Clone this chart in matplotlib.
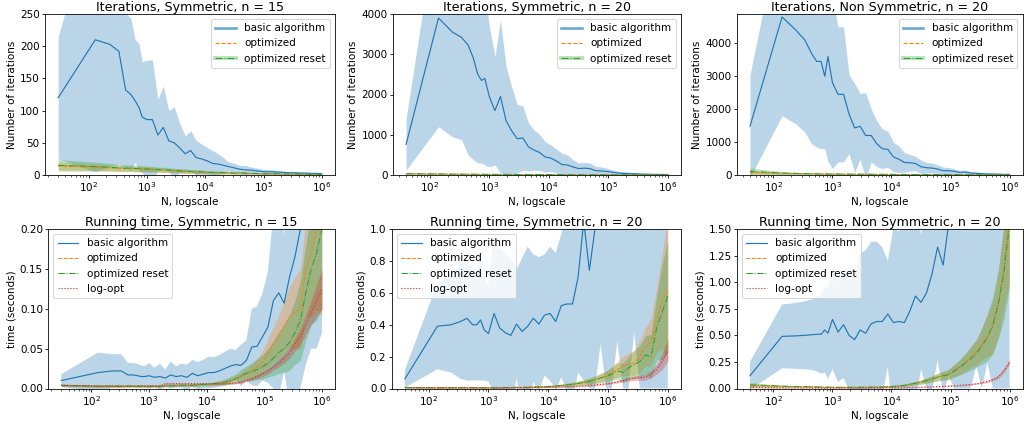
import matplotlib
matplotlib.use("Agg")
import matplotlib.pyplot as plt
from matplotlib.lines import Line2D
import numpy as np

# ---------------- data ----------------
N_A = [30, 130, 230, 330, 430, 530, 630, 730, 830, 1000, 1241, 1540, 1911, 2371, 2943, 3652,
       4532, 5623, 6978, 8660, 10746, 13335, 16548, 20535, 25483, 31623, 39242, 48697, 60430,
       74989, 93057, 115478, 143301, 177828, 220673, 273842, 339821, 421697, 523299, 649382,
       805842, 1000000]
N_B = [40, 140, 240, 340, 440, 540, 640, 740, 840, 1000, 1241, 1540, 1911, 2371, 2943, 3652,
       4532, 5623, 6978, 8660, 10746, 13335, 16548, 20535, 25483, 31623, 39242, 48697, 60430,
       74989, 93057, 115478, 143301, 177828, 220673, 273842, 339821, 421697, 523299, 649382,
       805842, 1000000]

# Panel 1: iterations, symmetric, n = 15
it15_basic = [120, 210, 203, 192, 132, 125, 115, 105, 90, 86, 86, 62, 74, 53, 50, 42, 33, 38, 27, 25,
              22, 18, 17, 15, 13, 11, 9, 8, 7.5, 6.5, 5.5, 5, 5, 4.5, 4, 3.5, 3.5, 3, 3, 2.5, 2.5, 2]
it15_basic_sd = [95, 205, 190, 175, 120, 118, 95, 99, 86, 92, 93, 56, 64, 47, 56, 38, 28, 31, 27, 23,
                 21, 20, 16, 12, 7, 7, 6, 7, 5, 4.5, 3.5, 3.5, 3, 2.5, 2, 2, 1.8, 1.5, 1.5, 1.2, 1.2, 1]
it15_opt = [14, 12, 11, 10.5, 10, 10, 9.5, 9.5, 9, 9, 8.5, 8, 7.5, 7, 6.5, 6, 5.5, 5, 5, 4.5,
            4, 4, 3.5, 3.5, 3, 3, 3, 2.5, 2.5, 2, 2, 2, 2, 1.5, 1.5, 1.5, 1.5, 1, 1, 1, 1, 1]
it15_opt_sd = [6, 5, 4.5, 4.5, 4, 4, 4, 4, 4, 4, 3.5, 3.5, 3.5, 3, 3, 3, 3, 2.5, 2.5, 2.5,
               2, 2, 2, 2, 1.5, 1.5, 1.5, 1.5, 1.2, 1.2, 1, 1, 1, 1, 0.8, 0.8, 0.8, 0.7, 0.7, 0.6, 0.6, 0.5]
it15_reset = [15, 13, 12, 11, 10.5, 10.5, 10, 10, 9.5, 9.5, 9, 8.5, 8, 7.5, 7, 6.5, 6, 5.5, 5, 5,
              4.5, 4, 4, 3.5, 3.5, 3, 3, 3, 2.5, 2.5, 2, 2, 2, 2, 1.5, 1.5, 1.5, 1.5, 1, 1, 1, 1]
it15_reset_sd = [9, 7, 6, 5.5, 5, 5, 5, 5, 4.5, 4.5, 4.5, 4, 4, 4, 3.5, 3.5, 3.5, 3, 3, 3,
                 2.5, 2.5, 2.5, 2, 2, 2, 2, 1.8, 1.5, 1.5, 1.2, 1.2, 1.2, 1, 1, 1, 0.8, 0.8, 0.8, 0.7, 0.7, 0.6]

# Panel 2: iterations, symmetric, n = 20
it20_basic = [760, 3900, 3550, 3420, 3230, 2900, 2500, 2350, 2400, 1950, 1600, 1950, 1350, 1100, 900,
              920, 700, 620, 560, 450, 420, 350, 260, 250, 200, 160, 170, 160, 110, 100,
              90, 70, 50, 40, 35, 30, 25, 20, 18, 15, 13, 12]
it20_basic_sd = [640, 2700, 2600, 2540, 2730, 2520, 2200, 2050, 2150, 1750, 1350, 1900, 1350, 1100, 850,
                 800, 600, 500, 450, 380, 330, 300, 280, 250, 180, 140, 140, 140, 110, 100,
                 80, 60, 50, 40, 35, 30, 25, 20, 18, 15, 13, 12]
it20_opt = [30, 25, 22, 20, 19, 18, 17, 16, 16, 15, 15, 14, 14, 13, 13, 12, 12, 11, 11, 10,
            10, 9, 9, 8, 8, 7, 7, 6, 6, 6, 5, 5, 5, 4, 4, 4, 3, 3, 3, 3, 2, 2]
it20_opt_sd = [15, 12, 10, 10, 9, 9, 8, 8, 8, 7, 7, 7, 6, 6, 6, 6, 5, 5, 5, 5,
               4, 4, 4, 4, 3, 3, 3, 3, 3, 2, 2, 2, 2, 2, 2, 1.5, 1.5, 1.5, 1, 1, 1, 1]
it20_reset = [34, 27, 23, 21, 20, 19, 18, 17, 16, 16, 15, 15, 14, 14, 13, 13, 12, 12, 11, 11,
              10, 10, 9, 9, 8, 8, 7, 7, 6, 6, 6, 5, 5, 5, 4, 4, 4, 3, 3, 3, 3, 2]
it20_reset_sd = [20, 14, 12, 11, 10, 10, 9, 9, 8, 8, 8, 7, 7, 7, 6, 6, 6, 6, 5, 5,
                 5, 5, 4, 4, 4, 4, 3, 3, 3, 3, 3, 2, 2, 2, 2, 2, 2, 1.5, 1.5, 1.5, 1, 1]

# Panel 3: iterations, non symmetric, n = 20
itns_basic = [1480, 4800, 4400, 4100, 3700, 3450, 3450, 3000, 3600, 2800, 2450, 2450, 1850, 1430, 1480,
              1200, 1200, 950, 800, 780, 550, 480, 380, 370, 350, 250, 220, 210, 180, 130,
              130, 110, 80, 90, 60, 50, 40, 30, 30, 25, 20, 20]
itns_basic_sd = [1560, 3000, 2850, 2800, 2750, 2600, 2650, 2200, 3200, 2600, 2050, 2050, 1200, 1350, 1000,
                 1300, 800, 700, 600, 550, 450, 400, 300, 250, 220, 200, 160, 150, 130, 110,
                 100, 80, 60, 60, 45, 40, 35, 30, 25, 20, 15, 15]
itns_opt = [80, 50, 42, 38, 35, 33, 31, 30, 29, 28, 27, 26, 25, 24, 23, 22, 21, 20, 19, 18,
            17, 16, 15, 15, 14, 13, 13, 12, 12, 11, 11, 10, 10, 9, 9, 9, 8, 8, 8, 7, 7, 7]
itns_opt_sd = [50, 30, 25, 22, 20, 19, 18, 17, 16, 16, 15, 15, 14, 14, 13, 13, 12, 12, 11, 11,
               10, 10, 9, 9, 9, 8, 8, 8, 7, 7, 7, 6, 6, 6, 5, 5, 5, 5, 4, 4, 4, 4]
itns_reset = [110, 60, 48, 42, 38, 35, 33, 32, 31, 30, 29, 28, 27, 26, 25, 24, 23, 22, 21, 20,
              19, 18, 17, 16, 15, 15, 14, 13, 13, 12, 12, 11, 11, 10, 10, 9, 9, 9, 8, 8, 8, 7]
itns_reset_sd = [100, 45, 35, 30, 27, 25, 23, 22, 21, 20, 19, 18, 17, 16, 15, 15, 14, 14, 13, 13,
                 12, 12, 11, 11, 10, 10, 9, 9, 9, 8, 8, 8, 7, 7, 7, 6, 6, 6, 5, 5, 5, 5]

# Panel 4: running time, symmetric, n = 15
t15_basic = [0.010, 0.020, 0.022, 0.022, 0.017, 0.017, 0.016, 0.015, 0.015, 0.016,
             0.014, 0.015, 0.013, 0.017, 0.015, 0.016, 0.014, 0.019, 0.016, 0.018,
             0.020, 0.020, 0.022, 0.025, 0.028, 0.030, 0.029, 0.035, 0.052, 0.053,
             0.065, 0.077, 0.11, 0.12, 0.107, 0.14, 0.165, 0.2, 0.25, 0.3, 0.35, 0.42]
t15_basic_sd = [0.008, 0.025, 0.021, 0.021, 0.015, 0.015, 0.015, 0.014, 0.013, 0.016,
                0.012, 0.016, 0.011, 0.017, 0.013, 0.015, 0.016, 0.017, 0.017, 0.018,
                0.020, 0.019, 0.020, 0.021, 0.022, 0.018, 0.026, 0.025, 0.048, 0.05,
                0.055, 0.07, 0.11, 0.13, 0.085, 0.16, 0.2, 0.2, 0.22, 0.25, 0.3, 0.35]
t15_opt = [0.004, 0.003, 0.003, 0.003, 0.003, 0.003, 0.003, 0.003, 0.003, 0.003,
           0.003, 0.003, 0.0035, 0.0035, 0.0035, 0.004, 0.004, 0.004, 0.0045, 0.005,
           0.005, 0.006, 0.007, 0.008, 0.010, 0.012, 0.015, 0.018, 0.022, 0.027,
           0.033, 0.045, 0.055, 0.065, 0.078, 0.09, 0.095, 0.10, 0.15, 0.17, 0.20, 0.23]
t15_opt_sd = [0.001, 0.001, 0.001, 0.001, 0.001, 0.001, 0.001, 0.001, 0.001, 0.001,
              0.001, 0.001, 0.001, 0.001, 0.001, 0.001, 0.001, 0.001, 0.001, 0.001,
              0.0015, 0.0015, 0.002, 0.002, 0.003, 0.004, 0.005, 0.007, 0.009, 0.011,
              0.014, 0.018, 0.022, 0.027, 0.032, 0.038, 0.045, 0.05, 0.06, 0.08, 0.1, 0.14]
t15_reset = [0.004, 0.003, 0.003, 0.003, 0.003, 0.003, 0.003, 0.003, 0.003, 0.003,
             0.003, 0.003, 0.0035, 0.0035, 0.0035, 0.004, 0.004, 0.004, 0.0045, 0.005,
             0.0055, 0.006, 0.007, 0.008, 0.010, 0.012, 0.016, 0.019, 0.021, 0.024,
             0.027, 0.032, 0.038, 0.045, 0.05, 0.058, 0.07, 0.085, 0.12, 0.15, 0.17, 0.20]
t15_reset_sd = [0.0015, 0.0015, 0.0015, 0.0015, 0.0015, 0.0015, 0.0015, 0.0015, 0.0015, 0.0015,
                0.0015, 0.0015, 0.0015, 0.0015, 0.0015, 0.0015, 0.0015, 0.0015, 0.002, 0.002,
                0.002, 0.0025, 0.003, 0.004, 0.005, 0.006, 0.008, 0.009, 0.011, 0.013,
                0.015, 0.018, 0.022, 0.026, 0.03, 0.035, 0.04, 0.05, 0.06, 0.07, 0.085, 0.1]
t15_log = [0.004, 0.003, 0.003, 0.003, 0.003, 0.003, 0.003, 0.003, 0.003, 0.003,
           0.003, 0.003, 0.006, 0.006, 0.006, 0.006, 0.006, 0.006, 0.006, 0.006,
           0.006, 0.006, 0.006, 0.006, 0.0065, 0.007, 0.008, 0.01, 0.012, 0.015,
           0.018, 0.022, 0.027, 0.032, 0.038, 0.045, 0.055, 0.065, 0.08, 0.095, 0.11, 0.125]
t15_log_sd = [0.001, 0.0008, 0.0008, 0.0008, 0.0008, 0.0008, 0.0008, 0.0008, 0.0008, 0.0008,
              0.0008, 0.0008, 0.001, 0.001, 0.001, 0.001, 0.001, 0.001, 0.001, 0.001,
              0.001, 0.001, 0.001, 0.001, 0.001, 0.0012, 0.0015, 0.0018, 0.002, 0.0025,
              0.003, 0.0035, 0.004, 0.005, 0.006, 0.007, 0.008, 0.01, 0.012, 0.015, 0.02, 0.025]

# Panel 5: running time, symmetric, n = 20
t20_basic = [0.06, 0.39, 0.40, 0.42, 0.44, 0.40, 0.40, 0.43, 0.37, 0.344,
             0.47, 0.38, 0.35, 0.333, 0.404, 0.358, 0.39, 0.441, 0.404, 0.46,
             0.47, 0.42, 0.52, 0.53, 0.53, 0.70, 1.05, 0.74, 1.0, 1.3,
             1.5, 1.7, 1.9, 2.1, 2.4, 2.7, 3.0, 3.3, 3.7, 4.1, 4.5, 5.0]
t20_basic_sd = [0.055, 0.27, 0.30, 0.36, 0.39, 0.35, 0.35, 0.38, 0.32, 0.30,
                0.50, 0.50, 0.50, 0.48, 0.34, 0.46, 0.50, 0.40, 0.42, 0.38,
                0.42, 0.43, 0.45, 0.55, 0.6, 0.6, 1.0, 0.74, 1.0, 1.02,
                1.5, 1.7, 1.6, 2.1, 2.4, 2.35, 3.0, 3.3, 3.7, 4.1, 4.5, 5.0]
t20_opt = [0.006, 0.005, 0.005, 0.005, 0.005, 0.005, 0.005, 0.005, 0.005, 0.005,
           0.005, 0.005, 0.006, 0.006, 0.007, 0.007, 0.008, 0.009, 0.01, 0.011,
           0.013, 0.016, 0.019, 0.023, 0.027, 0.032, 0.038, 0.045, 0.055, 0.066,
           0.08, 0.1, 0.12, 0.14, 0.15, 0.16, 0.2, 0.26, 0.29, 0.43, 0.55, 0.62]
t20_opt_sd = [0.004, 0.003, 0.003, 0.003, 0.003, 0.003, 0.003, 0.003, 0.003, 0.003,
              0.003, 0.003, 0.003, 0.003, 0.003, 0.003, 0.004, 0.004, 0.004, 0.005,
              0.005, 0.006, 0.007, 0.008, 0.01, 0.012, 0.014, 0.017, 0.02, 0.025,
              0.03, 0.04, 0.05, 0.06, 0.07, 0.08, 0.1, 0.12, 0.15, 0.2, 0.3, 0.45]
t20_reset = [0.006, 0.005, 0.005, 0.005, 0.005, 0.005, 0.005, 0.005, 0.005, 0.005,
             0.005, 0.005, 0.006, 0.006, 0.007, 0.007, 0.008, 0.009, 0.01, 0.011,
             0.013, 0.016, 0.019, 0.023, 0.027, 0.032, 0.038, 0.045, 0.055, 0.066,
             0.075, 0.09, 0.11, 0.10, 0.13, 0.15, 0.17, 0.21, 0.20, 0.38, 0.48, 0.58]
t20_reset_sd = [0.004, 0.003, 0.003, 0.003, 0.003, 0.003, 0.003, 0.003, 0.003, 0.003,
                0.003, 0.003, 0.003, 0.003, 0.003, 0.003, 0.004, 0.004, 0.004, 0.005,
                0.006, 0.007, 0.008, 0.01, 0.012, 0.015, 0.018, 0.02, 0.025, 0.03,
                0.035, 0.04, 0.05, 0.06, 0.07, 0.09, 0.1, 0.12, 0.14, 0.2, 0.3, 0.35]
t20_log = [0.006, 0.005, 0.005, 0.005, 0.005, 0.005, 0.005, 0.005, 0.005, 0.005,
           0.005, 0.005, 0.005, 0.005, 0.006, 0.006, 0.006, 0.007, 0.007, 0.008,
           0.008, 0.009, 0.01, 0.011, 0.012, 0.014, 0.016, 0.019, 0.022, 0.026,
           0.03, 0.035, 0.042, 0.05, 0.058, 0.065, 0.068, 0.07, 0.09, 0.12, 0.17, 0.24]
t20_log_sd = [0.002, 0.002, 0.002, 0.002, 0.002, 0.002, 0.002, 0.002, 0.002, 0.002,
              0.002, 0.002, 0.002, 0.002, 0.002, 0.002, 0.002, 0.002, 0.002, 0.002,
              0.002, 0.002, 0.002, 0.003, 0.003, 0.003, 0.004, 0.004, 0.005, 0.005,
              0.006, 0.007, 0.008, 0.01, 0.012, 0.014, 0.016, 0.018, 0.022, 0.03, 0.05, 0.07]

# Panel 6: running time, non symmetric, n = 20
tns_basic = [0.12, 0.49, 0.495, 0.50, 0.505, 0.51, 0.51, 0.55, 0.52, 0.65,
             0.53, 0.60, 0.50, 0.46, 0.55, 0.52, 0.61, 0.63, 0.63, 0.70,
             0.62, 0.63, 0.62, 0.73, 0.87, 0.81, 0.90, 1.08, 1.33, 1.16,
             1.55, 1.8, 2.0, 2.2, 2.4, 2.6, 2.8, 3.0, 3.2, 3.4, 3.6, 3.8]
tns_basic_sd = [0.13, 0.30, 0.31, 0.32, 0.33, 0.35, 0.37, 0.40, 0.43, 0.47,
                0.47, 0.50, 0.52, 0.59, 0.72, 0.78, 0.77, 0.75, 0.70, 0.50,
                0.88, 0.85, 0.9, 0.95, 1.0, 0.63, 0.9, 1.1, 1.06, 1.2,
                1.43, 1.8, 2.0, 2.2, 2.4, 2.39, 2.8, 2.76, 3.2, 3.4, 3.6, 3.8]
tns_opt = [0.03, 0.02, 0.018, 0.016, 0.015, 0.014, 0.013, 0.012, 0.012, 0.011,
           0.011, 0.011, 0.011, 0.011, 0.012, 0.012, 0.013, 0.014, 0.015, 0.017,
           0.02, 0.025, 0.03, 0.04, 0.05, 0.06, 0.075, 0.09, 0.11, 0.12,
           0.135, 0.17, 0.2, 0.24, 0.3, 0.34, 0.42, 0.5, 0.58, 0.8, 1.15, 1.6]
tns_opt_sd = [0.012, 0.008, 0.007, 0.006, 0.006, 0.005, 0.005, 0.005, 0.005, 0.005,
              0.004, 0.004, 0.004, 0.004, 0.004, 0.004, 0.004, 0.005, 0.005, 0.006,
              0.007, 0.008, 0.01, 0.012, 0.015, 0.018, 0.022, 0.027, 0.032, 0.038,
              0.045, 0.055, 0.065, 0.08, 0.1, 0.12, 0.15, 0.2, 0.25, 0.3, 0.4, 0.6]
tns_reset = [0.035, 0.022, 0.019, 0.017, 0.016, 0.015, 0.014, 0.013, 0.012, 0.012,
             0.011, 0.011, 0.011, 0.011, 0.012, 0.012, 0.013, 0.014, 0.015, 0.017,
             0.02, 0.025, 0.03, 0.04, 0.05, 0.06, 0.075, 0.09, 0.105, 0.12,
             0.13, 0.165, 0.2, 0.24, 0.28, 0.33, 0.4, 0.48, 0.6, 0.8, 1.1, 1.55]
tns_reset_sd = [0.02, 0.01, 0.008, 0.007, 0.007, 0.006, 0.006, 0.006, 0.006, 0.006,
                0.005, 0.005, 0.005, 0.005, 0.005, 0.005, 0.005, 0.006, 0.006, 0.007,
                0.008, 0.01, 0.012, 0.014, 0.017, 0.02, 0.025, 0.03, 0.036, 0.042,
                0.05, 0.06, 0.075, 0.09, 0.11, 0.13, 0.17, 0.22, 0.27, 0.33, 0.45, 0.6]
tns_log = [0.012, 0.006, 0.005, 0.005, 0.005, 0.005, 0.005, 0.005, 0.005, 0.005,
           0.005, 0.005, 0.005, 0.005, 0.005, 0.005, 0.006, 0.006, 0.006, 0.007,
           0.007, 0.008, 0.009, 0.01, 0.011, 0.012, 0.014, 0.016, 0.018, 0.02,
           0.023, 0.027, 0.03, 0.034, 0.038, 0.045, 0.055, 0.065, 0.085, 0.11, 0.17, 0.25]
tns_log_sd = [0.006, 0.003, 0.002, 0.002, 0.002, 0.002, 0.002, 0.002, 0.002, 0.002,
              0.002, 0.002, 0.002, 0.002, 0.002, 0.002, 0.002, 0.002, 0.002, 0.002,
              0.002, 0.002, 0.002, 0.002, 0.002, 0.003, 0.003, 0.003, 0.003, 0.004,
              0.004, 0.004, 0.005, 0.005, 0.006, 0.007, 0.008, 0.01, 0.012, 0.015, 0.02, 0.025]

TITLES = ["Iterations, Symmetric, n = 15", "Iterations, Symmetric, n = 20",
          "Iterations, Non Symmetric, n = 20", "Running time, Symmetric, n = 15",
          "Running time, Symmetric, n = 20", "Running time, Non Symmetric, n = 20"]
LABELS = ["basic algorithm", "optimized", "optimized reset", "log-opt"]

# ---------------- drawing ----------------
C_BASIC, C_OPT, C_RESET, C_LOG = "#1f77b4", "#ff7f0e", "#2ca02c", "#d62728"
DPI = 73
W, H = 1025, 423

plt.rcParams.update({
    "xtick.major.size": 2.7, "ytick.major.size": 2.7,
    "xtick.minor.size": 1.5, "ytick.minor.size": 1.5,
    "xtick.major.pad": 2.6, "ytick.major.pad": 2.6,
    "xtick.minor.pad": 2.6,
    "axes.labelpad": 3.0,
    "xtick.labelsize": 10.2, "ytick.labelsize": 10.2,
    "axes.labelsize": 10.2, "legend.fontsize": 10.2,
})

fig = plt.figure(figsize=(W / DPI, H / DPI), dpi=DPI)


def px_axes(l, t, r, b):
    return fig.add_axes([l / W, 1 - b / H, (r - l) / W, (b - t) / H])


def series(ax, x, m, s, color, ls, lw, label):
    m = np.asarray(m, dtype=float)
    s = np.asarray(s, dtype=float)
    ax.fill_between(x, m - s, m + s, color=color, alpha=0.3, lw=0)
    ax.plot(x, m, color=color, ls=ls, lw=lw, label=label)


panels = [
    (px_axes(45, 14, 335, 175), N_A, [(it15_basic, it15_basic_sd), (it15_opt, it15_opt_sd),
                                      (it15_reset, it15_reset_sd)], (0, 250)),
    (px_axes(393, 14, 681, 175), N_B, [(it20_basic, it20_basic_sd), (it20_opt, it20_opt_sd),
                                       (it20_reset, it20_reset_sd)], (0, 4000)),
    (px_axes(737, 14, 1022.5, 175), N_B, [(itns_basic, itns_basic_sd), (itns_opt, itns_opt_sd),
                                          (itns_reset, itns_reset_sd)], (0, 4890)),
    (px_axes(48.3, 229, 335, 388.5), N_A, [(t15_basic, t15_basic_sd), (t15_opt, t15_opt_sd),
                                           (t15_reset, t15_reset_sd), (t15_log, t15_log_sd)], (0, 0.2)),
    (px_axes(391.7, 229, 681, 388.5), N_B, [(t20_basic, t20_basic_sd), (t20_opt, t20_opt_sd),
                                            (t20_reset, t20_reset_sd), (t20_log, t20_log_sd)], (0, 1.0)),
    (px_axes(737, 229, 1022.5, 388.5), N_B, [(tns_basic, tns_basic_sd), (tns_opt, tns_opt_sd),
                                             (tns_reset, tns_reset_sd), (tns_log, tns_log_sd)], (0, 1.5)),
]

styles = [(C_BASIC, "-", 1.15), (C_OPT, "--", 1.0), (C_RESET, "-.", 1.0), (C_LOG, ":", 1.1)]

for k, (ax, x, data, ylim) in enumerate(panels):
    for (m, s), (c, ls, lw), lab in zip(data, styles, LABELS):
        series(ax, x, m, s, c, ls, lw, lab)
    ax.set_xscale("log")
    ax.set_ylim(*ylim)
    ax.set_title(TITLES[k], fontsize=12.4, pad=2.5)
    ax.set_xlabel("N, logscale")
    if k < 3:
        ax.set_ylabel("Number of iterations")
        handles = [
            Line2D([], [], color=C_BASIC, alpha=0.65, lw=2.6),
            Line2D([], [], color=C_OPT, ls="--", lw=1.1),
            (Line2D([], [], color=C_RESET, alpha=0.3, lw=4),
             Line2D([], [], color=C_RESET, ls="-.", lw=1.1)),
        ]
        ax.legend(handles, LABELS[:3], loc="upper right")
    else:
        ax.set_ylabel("time (seconds)")
        ax.legend(loc="upper left")

fig.savefig("out.png", dpi=DPI)
